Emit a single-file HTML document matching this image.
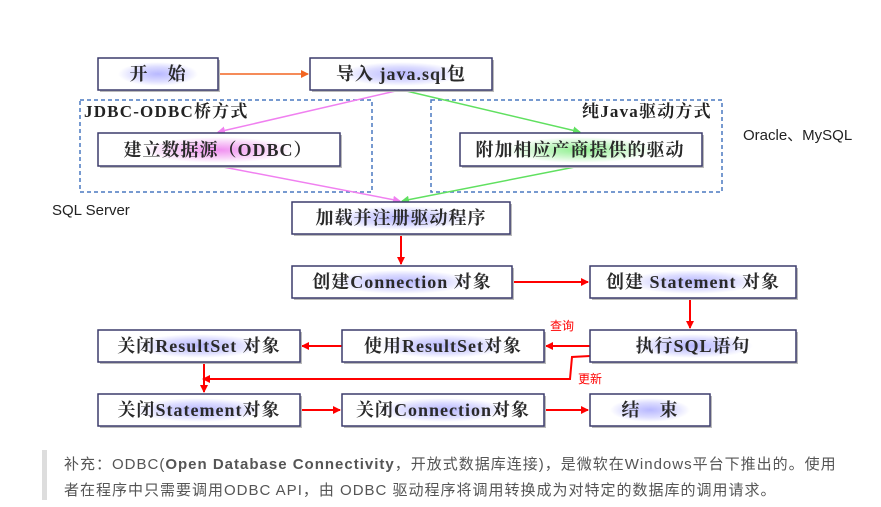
<!DOCTYPE html>
<html><head><meta charset="utf-8"><style>
body{margin:0;width:881px;height:507px;background:#fff;overflow:hidden;position:relative;font-family:"Liberation Serif","Noto Serif CJK SC",serif}
.note{position:absolute;left:64px;font-family:"Liberation Sans","Noto Sans CJK SC",sans-serif;font-size:15px;color:#555;white-space:nowrap;letter-spacing:1.0px}
</style></head><body>
<svg width="881" height="507" style="position:absolute;left:0;top:0">
<defs>
<radialGradient id="gb" cx="50%" cy="50%" r="50%"><stop offset="0" stop-color="#b8b8ff"/><stop offset="0.6" stop-color="#dcdcff"/><stop offset="1" stop-color="#fff"/></radialGradient>
<radialGradient id="gp" cx="50%" cy="50%" r="50%"><stop offset="0" stop-color="#f090f0"/><stop offset="0.6" stop-color="#f8d0f8"/><stop offset="1" stop-color="#fff"/></radialGradient>
<radialGradient id="gg" cx="50%" cy="50%" r="50%"><stop offset="0" stop-color="#90f090"/><stop offset="0.6" stop-color="#d0f8d0"/><stop offset="1" stop-color="#fff"/></radialGradient>
<marker id="ar" markerWidth="8" markerHeight="8" refX="7" refY="4" orient="auto" markerUnits="userSpaceOnUse"><path d="M0,0L8,4L0,8z" fill="#f00"/></marker>
<marker id="ao" markerWidth="8" markerHeight="8" refX="7" refY="4" orient="auto" markerUnits="userSpaceOnUse"><path d="M0,0L8,4L0,8z" fill="#f26522"/></marker>
<marker id="ap" markerWidth="8" markerHeight="8" refX="7" refY="4" orient="auto" markerUnits="userSpaceOnUse"><path d="M0,0L8,4L0,8z" fill="#f080f0"/></marker>
<marker id="ag" markerWidth="8" markerHeight="8" refX="7" refY="4" orient="auto" markerUnits="userSpaceOnUse"><path d="M0,0L8,4L0,8z" fill="#60e060"/></marker>
</defs>
<g fill="none" stroke="#4a78c0" stroke-width="1.5" stroke-dasharray="4,3">
<rect x="80" y="100" width="292" height="92"/>
<rect x="431" y="100" width="291" height="92"/>
</g>
<g stroke-width="1.5" fill="none">
<line x1="218" y1="74" x2="308" y2="74" stroke="#f26522" marker-end="url(#ao)"/>
<polyline points="400,90 218,132" stroke="#f080f0" marker-end="url(#ap)"/>
<polyline points="218,166 400,201" stroke="#f080f0" marker-end="url(#ap)"/>
<polyline points="402,90 580,132" stroke="#60e060" marker-end="url(#ag)"/>
<polyline points="580,166 402,201" stroke="#60e060" marker-end="url(#ag)"/>
<g stroke="#f00" stroke-width="2">
<line x1="401" y1="234" x2="401" y2="264" marker-end="url(#ar)"/>
<line x1="512" y1="282" x2="588" y2="282" marker-end="url(#ar)"/>
<line x1="690" y1="298" x2="690" y2="328" marker-end="url(#ar)"/>
<line x1="590" y1="346" x2="546" y2="346" marker-end="url(#ar)"/>
<line x1="342" y1="346" x2="302" y2="346" marker-end="url(#ar)"/>
<polyline points="590,356 572,357 570,379 203,379" marker-end="url(#ar)"/>
<line x1="204" y1="362" x2="204" y2="392" marker-end="url(#ar)"/>
<line x1="300" y1="410" x2="340" y2="410" marker-end="url(#ar)"/>
<line x1="544" y1="410" x2="588" y2="410" marker-end="url(#ar)"/>
</g>
</g>
<g font-size="18" letter-spacing="1" font-weight="bold" fill="#2a2a2a" text-anchor="middle" font-family="'Liberation Serif','Noto Serif CJK SC',serif">
<rect x="100" y="60" width="120" height="32" fill="#bbb"/><rect x="98" y="58" width="120" height="32" fill="#fff" stroke="#3c3c6c" stroke-width="1.5"/><ellipse cx="158" cy="74" rx="40" ry="12" fill="url(#gb)"/><text x="158" y="80">开　始</text>
<rect x="312" y="60" width="182" height="32" fill="#bbb"/><rect x="310" y="58" width="182" height="32" fill="#fff" stroke="#3c3c6c" stroke-width="1.5"/><ellipse cx="401" cy="74" rx="60" ry="12" fill="url(#gb)"/><text x="401" y="80">导入 java.sql包</text>
<rect x="100" y="135" width="242" height="33" fill="#bbb"/><rect x="98" y="133" width="242" height="33" fill="#fff" stroke="#3c3c6c" stroke-width="1.5"/><ellipse cx="218" cy="150" rx="75" ry="13" fill="url(#gp)"/><text x="218" y="156">建立数据源（ODBC）</text>
<rect x="462" y="135" width="242" height="33" fill="#bbb"/><rect x="460" y="133" width="242" height="33" fill="#fff" stroke="#3c3c6c" stroke-width="1.5"/><ellipse cx="580" cy="150" rx="75" ry="13" fill="url(#gg)"/><text x="580" y="156">附加相应产商提供的驱动</text>
<rect x="294" y="204" width="218" height="32" fill="#bbb"/><rect x="292" y="202" width="218" height="32" fill="#fff" stroke="#3c3c6c" stroke-width="1.5"/><ellipse cx="401" cy="218" rx="70" ry="12" fill="url(#gb)"/><text x="401" y="224">加载并注册驱动程序</text>
<rect x="294" y="268" width="220" height="32" fill="#bbb"/><rect x="292" y="266" width="220" height="32" fill="#fff" stroke="#3c3c6c" stroke-width="1.5"/><ellipse cx="402" cy="282" rx="70" ry="12" fill="url(#gb)"/><text x="402" y="288">创建Connection 对象</text>
<rect x="592" y="268" width="206" height="32" fill="#bbb"/><rect x="590" y="266" width="206" height="32" fill="#fff" stroke="#3c3c6c" stroke-width="1.5"/><ellipse cx="693" cy="282" rx="65" ry="12" fill="url(#gb)"/><text x="693" y="288">创建 Statement 对象</text>
<rect x="592" y="332" width="206" height="32" fill="#bbb"/><rect x="590" y="330" width="206" height="32" fill="#fff" stroke="#3c3c6c" stroke-width="1.5"/><ellipse cx="693" cy="346" rx="60" ry="12" fill="url(#gb)"/><text x="693" y="352">执行SQL语句</text>
<rect x="344" y="332" width="202" height="32" fill="#bbb"/><rect x="342" y="330" width="202" height="32" fill="#fff" stroke="#3c3c6c" stroke-width="1.5"/><ellipse cx="443" cy="346" rx="65" ry="12" fill="url(#gb)"/><text x="443" y="352">使用ResultSet对象</text>
<rect x="100" y="332" width="202" height="32" fill="#bbb"/><rect x="98" y="330" width="202" height="32" fill="#fff" stroke="#3c3c6c" stroke-width="1.5"/><ellipse cx="199" cy="346" rx="65" ry="12" fill="url(#gb)"/><text x="199" y="352">关闭ResultSet 对象</text>
<rect x="100" y="396" width="202" height="32" fill="#bbb"/><rect x="98" y="394" width="202" height="32" fill="#fff" stroke="#3c3c6c" stroke-width="1.5"/><ellipse cx="199" cy="410" rx="65" ry="12" fill="url(#gb)"/><text x="199" y="416">关闭Statement对象</text>
<rect x="344" y="396" width="202" height="32" fill="#bbb"/><rect x="342" y="394" width="202" height="32" fill="#fff" stroke="#3c3c6c" stroke-width="1.5"/><ellipse cx="443" cy="410" rx="65" ry="12" fill="url(#gb)"/><text x="443" y="416">关闭Connection对象</text>
<rect x="592" y="396" width="120" height="32" fill="#bbb"/><rect x="590" y="394" width="120" height="32" fill="#fff" stroke="#3c3c6c" stroke-width="1.5"/><ellipse cx="650" cy="410" rx="40" ry="12" fill="url(#gb)"/><text x="650" y="416">结　束</text>
</g>
<g font-size="17" letter-spacing="1.2" font-weight="bold" fill="#222" font-family="'Liberation Serif','Noto Serif CJK SC',serif">
<text x="84" y="117">JDBC-ODBC桥方式</text>
<text x="582" y="117">纯Java驱动方式</text>
</g>
<g font-family="'Liberation Sans','Noto Sans CJK SC',sans-serif">
<text x="743" y="140" font-size="15" fill="#222">Oracle、MySQL</text>
<text x="52" y="215" font-size="15" fill="#222">SQL Server</text>
<text x="550" y="330" font-size="12" fill="#f00">查询</text>
<text x="578" y="383" font-size="12" fill="#f00">更新</text>
</g>
<rect x="42" y="450" width="5" height="50" fill="#ddd"/>
</svg>
<div class="note" style="top:453px">补充：ODBC(<b>Open Database Connectivity</b>，开放式数据库连接)，是微软在Windows平台下推出的。使用</div>
<div class="note" style="top:479px">者在程序中只需要调用ODBC API，由 ODBC 驱动程序将调用转换成为对特定的数据库的调用请求。</div>
</body></html>
